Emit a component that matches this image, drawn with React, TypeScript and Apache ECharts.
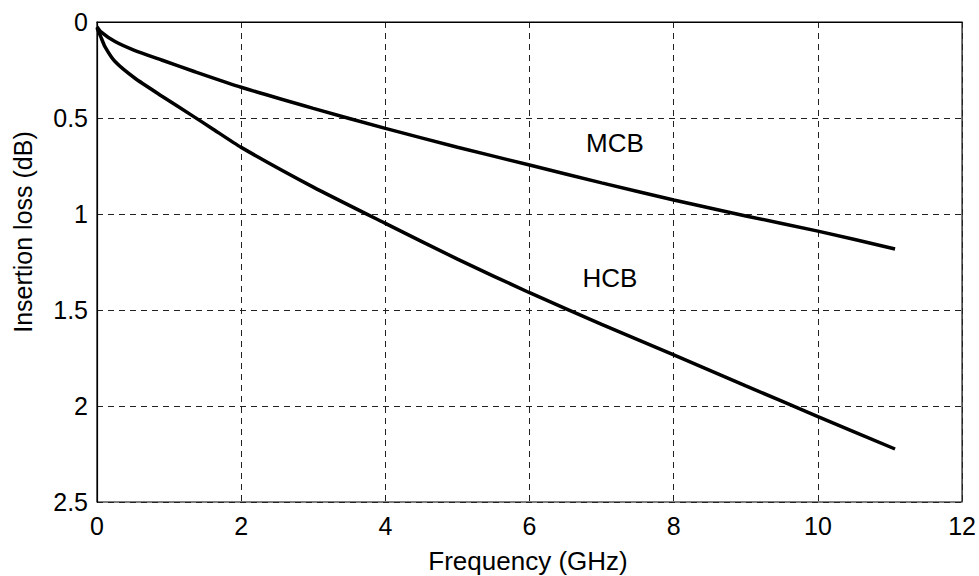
import React, { useEffect, useRef } from "react";
import * as echarts from "echarts";

const xTicks = [0, 2, 4, 6, 8, 10, 12];
const yTicks = [0, 0.5, 1, 1.5, 2, 2.5];

const mcbFreq = [0, 0.05, 0.25, 0.527, 0.896, 1.358, 2, 3, 4, 5, 6, 7, 8, 9, 10, 11.07];
const mcbLoss = [0.025, 0.05, 0.102, 0.149, 0.198, 0.259, 0.34, 0.45, 0.554, 0.652, 0.745, 0.838, 0.927, 1.01, 1.089, 1.182];

const hcbFreq = [0, 0.05, 0.11, 0.25, 0.527, 0.896, 1.31, 1.59, 2, 3, 4, 5, 6, 7, 8, 9, 10, 11.07];
const hcbLoss = [0.03, 0.075, 0.128, 0.206, 0.293, 0.385, 0.485, 0.553, 0.653, 0.86, 1.049, 1.235, 1.41, 1.575, 1.734, 1.895, 2.055, 2.224];

const seriesNames = ["MCB", "HCB"];
const xName = "Frequency (GHz)";
const yName = "Insertion loss (dB)";

const FONT = "'Liberation Sans', Arial, Helvetica, sans-serif";

export default function App() {
  const ref = useRef<HTMLDivElement>(null);
  useEffect(() => {
    if (!ref.current) return;
    const chart = echarts.init(ref.current, undefined, { renderer: "svg" });
    const gridLine = { show: true, lineStyle: { color: "#222", width: 1, type: [6, 5] as any } };
    chart.setOption({
      animation: false,
      backgroundColor: "#fff",
      grid: { left: 97, top: 22, right: 16, bottom: 74, show: true, borderColor: "#000", borderWidth: 1.2, backgroundColor: "transparent" },
      xAxis: {
        type: "value",
        min: xTicks[0],
        max: xTicks[xTicks.length - 1],
        interval: 2,
        axisLine: { show: true, lineStyle: { color: "#000", width: 1.2 } },
        axisTick: { show: false },
        splitLine: gridLine,
        axisLabel: { color: "#000", fontSize: 25, fontFamily: FONT, margin: 11 },
      },
      yAxis: {
        type: "value",
        inverse: true,
        min: yTicks[0],
        max: yTicks[yTicks.length - 1],
        interval: 0.5,
        axisLine: { show: true, lineStyle: { color: "#000", width: 1.2 } },
        axisTick: { show: false },
        splitLine: gridLine,
        axisLabel: { color: "#000", fontSize: 25, fontFamily: FONT, margin: 9 },
      },
      graphic: [
        { type: "text", x: 23, y: 232, rotation: Math.PI / 2, style: { text: yName, fontSize: 25, fontFamily: FONT, fill: "#000", align: "center", verticalAlign: "middle" } },
        { type: "text", x: 528, y: 561, style: { text: xName, fontSize: 26, fontFamily: FONT, fill: "#000", align: "center", verticalAlign: "middle" } },
        { type: "text", x: 615, y: 143, style: { text: seriesNames[0], fontSize: 26, fontFamily: FONT, fill: "#000", align: "center", verticalAlign: "middle" } },
        { type: "text", x: 610, y: 278, style: { text: seriesNames[1], fontSize: 26, fontFamily: FONT, fill: "#000", align: "center", verticalAlign: "middle" } },
      ],
      series: [
        {
          name: seriesNames[0],
          type: "line",
          data: mcbFreq.map((f, i) => [f, mcbLoss[i]]),
          showSymbol: false,
          smooth: 0.2,
          lineStyle: { color: "#000", width: 3.5 },
        },
        {
          name: seriesNames[1],
          type: "line",
          data: hcbFreq.map((f, i) => [f, hcbLoss[i]]),
          showSymbol: false,
          smooth: 0.2,
          lineStyle: { color: "#000", width: 3.5 },
        },
      ],
    });
    return () => chart.dispose();
  }, []);
  return <div ref={ref} style={{ width: 979, height: 576, position: "absolute", left: 0, top: 0 }} />;
}
